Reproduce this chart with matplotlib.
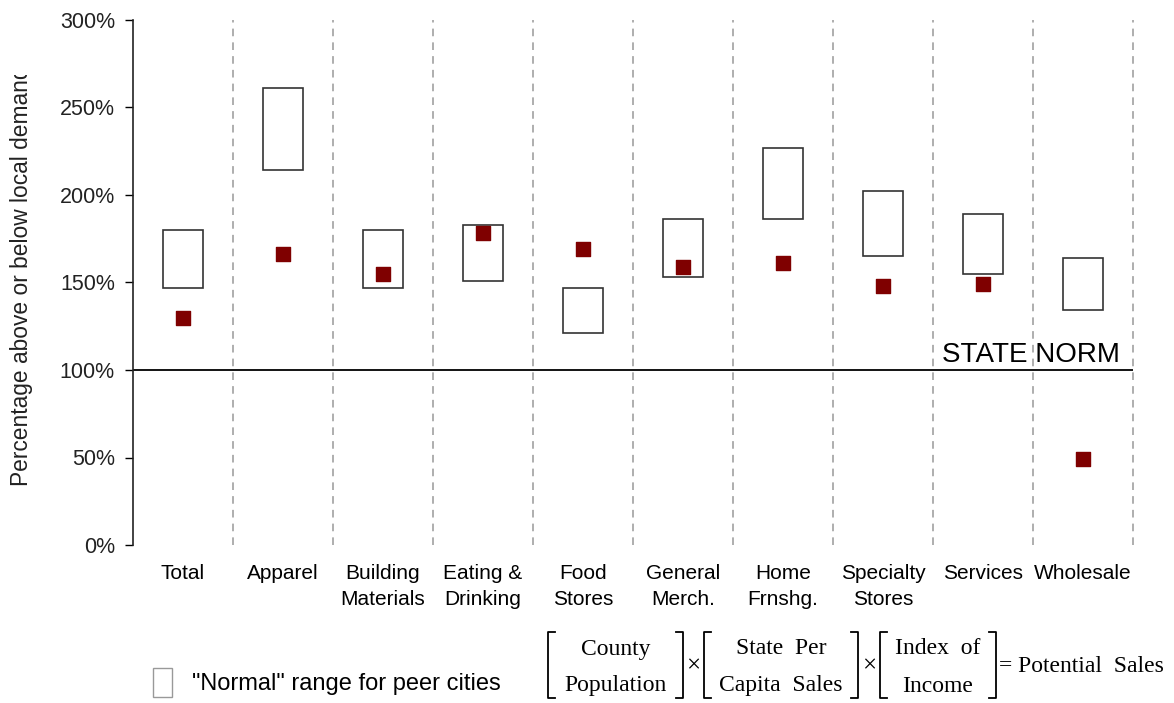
import matplotlib
matplotlib.use("Agg")
import matplotlib.pyplot as plt
from matplotlib.patches import Rectangle
from matplotlib.lines import Line2D
from matplotlib.transforms import Bbox

plt.rcParams["font.family"] = ["Liberation Sans", "DejaVu Sans"]

categories = ["Total", "Apparel", "Building\nMaterials", "Eating &\nDrinking", "Food\nStores",
              "General\nMerch.", "Home\nFrnshg.", "Specialty\nStores", "Services", "Wholesale"]
range_low = [147, 214, 147, 151, 121, 153, 186, 165, 155, 134]
range_high = [180, 261, 180, 183, 147, 186, 227, 202, 189, 164]
city_value = [130, 166, 155, 178, 169, 159, 161, 148, 149, 49]
y_ticks = [0, 50, 100, 150, 200, 250, 300]

W, H = 1174, 703
fig = plt.figure(figsize=(W / 100, H / 100), dpi=100)
ax = fig.add_axes([133 / W, 1 - 545 / H, 1000 / W, 525 / H])

n = len(categories)
box_w = 0.4
for i in range(n):
    ax.add_patch(Rectangle((i - box_w / 2, range_low[i]), box_w, range_high[i] - range_low[i],
                           facecolor="white", edgecolor="#333333", linewidth=1.2, zorder=3))
ax.scatter(range(n), city_value, marker="s", s=110, color="#7f0000", zorder=4)

for b in range(n):
    ax.axvline(b + 0.5, color="#999999", linestyle=(0, (5, 4)), linewidth=1.1, zorder=1, clip_on=False)
ax.axhline(100, color="black", linewidth=1.3, zorder=2)
ax.text(n - 0.5 - 0.13, 101, "STATE NORM", ha="right", va="bottom", fontsize=20)

ax.set_xlim(-0.5, n - 0.5)
ax.set_ylim(0, 300)
ax.set_yticks(y_ticks)
ax.set_yticklabels([f"{v}%" for v in y_ticks], fontsize=15.5, color="#222222")
ax.tick_params(axis="y", length=6, width=1, pad=7)
ax.set_xticks(range(n))
ax.set_xticklabels(categories, fontsize=15, linespacing=1.45, va="top")
ax.tick_params(axis="x", length=0, pad=14)
for s in ["top", "right", "bottom"]:
    ax.spines[s].set_visible(False)
ax.spines["left"].set_linewidth(1.2)
ax.spines["left"].set_color("#222222")

# y label, cut off at the top as in the original
yl = fig.text(22 / W, 1 - 276 / H, "Percentage above or below local demand", rotation=90,
              ha="center", va="center", fontsize=16.4, color="#222222")
yl.set_clip_box(Bbox.from_extents(0, 0, 60, H - 75))
yl.set_clip_on(True)

# legend
fig.add_artist(Rectangle((153 / W, 1 - 697 / H), 19 / W, 29 / H, transform=fig.transFigure,
                         facecolor="white", edgecolor="#999999", linewidth=1.0))
fig.text(192 / W, 1 - 684 / H, "\"Normal\" range for peer cities", ha="left", va="center", fontsize=17)

# formula
serif = ["Liberation Serif", "DejaVu Serif"]


def bracket(x0, x1, top=632, bot=698, arm=7):
    for xs, ys in [([x0 + arm, x0, x0, x0 + arm], [top, top, bot, bot]),
                   ([x1 - arm, x1, x1, x1 - arm], [top, top, bot, bot])]:
        fig.add_artist(Line2D([x / W for x in xs], [1 - y / H for y in ys],
                              transform=fig.transFigure, color="black", linewidth=1.3))


groups = [(548, 683, "County", "Population"),
          (704, 858, "State  Per", "Capita  Sales"),
          (880, 996, "Index  of", "Income")]
for x0, x1, top_txt, bot_txt in groups:
    bracket(x0, x1)
    cx = (x0 + x1) / 2
    fig.text(cx / W, 1 - 649 / H, top_txt, ha="center", va="center", fontsize=17, family=serif)
    fig.text(cx / W, 1 - 686 / H, bot_txt, ha="center", va="center", fontsize=17, family=serif)
fig.text(693 / W, 1 - 666 / H, "×", ha="center", va="center", fontsize=18, family=serif)
fig.text(869 / W, 1 - 666 / H, "×", ha="center", va="center", fontsize=18, family=serif)
fig.text(999 / W, 1 - 666 / H, "= Potential  Sales", ha="left", va="center", fontsize=17, family=serif)

fig.savefig("out.png", dpi=100)
